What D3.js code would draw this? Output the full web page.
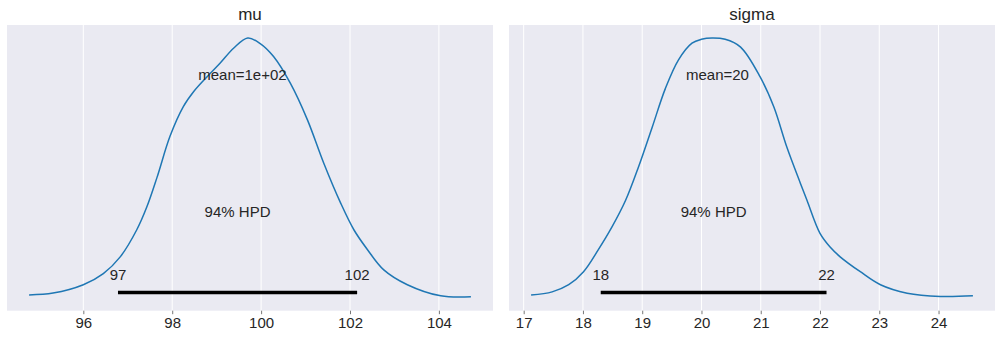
<!DOCTYPE html>
<html>
<head>
<meta charset="utf-8">
<script src="https://cdn.jsdelivr.net/npm/d3@7"></script>
<style>
  body { margin: 0; background: #fff; }
  svg text { font-family: "Liberation Sans", Arial, sans-serif; fill: #262626; }
</style>
</head>
<body>
<script>
// posterior of mu: kde points
const muX = [94.78, 95.32, 96.00, 96.45, 96.83, 97.20, 97.43, 97.66, 97.95, 98.25, 98.48, 98.78, 99.08, 99.38, 99.70,
  99.98, 100.28, 100.66, 101.04, 101.41, 101.79, 102.09, 102.39, 102.76, 103.29, 104.04, 104.72];
const muDensity = [0.003, 0.005, 0.014, 0.026, 0.044, 0.073, 0.098, 0.130, 0.174, 0.206, 0.222, 0.238, 0.253, 0.269, 0.280,
  0.274, 0.260, 0.231, 0.192, 0.145, 0.102, 0.073, 0.052, 0.030, 0.014, 0.002, 0.001];
const muMean = 99.58;
const muHpd = [96.78, 102.16];
const muHpdLabels = ["97", "102"];
const muTicks = [96, 98, 100, 102, 104];

// posterior of sigma
const sigmaX = [17.125, 17.48, 17.76, 18.01, 18.26, 18.49, 18.72, 18.94, 19.17, 19.39, 19.61, 19.84, 20.00, 20.18, 20.40,
  20.66, 20.99, 21.22, 21.44, 21.67, 21.78, 22.00, 22.17, 22.34, 22.68, 23.02, 23.47, 24.03, 24.58];
const sigmaDensity = [0.004, 0.009, 0.020, 0.040, 0.074, 0.109, 0.150, 0.202, 0.263, 0.322, 0.366, 0.392, 0.398, 0.400, 0.398,
  0.386, 0.340, 0.294, 0.232, 0.176, 0.150, 0.099, 0.078, 0.063, 0.040, 0.020, 0.007, 0.002, 0.003];
const sigmaMean = 20.27;
const sigmaHpd = [18.30, 22.11];
const sigmaHpdLabels = ["18", "22"];
const sigmaTicks = [17, 18, 19, 20, 21, 22, 23, 24];

const panels = [
  { title: "mu", x: muX, y: muDensity, mean: muMean, meanLabel: "mean=1e+02", hpd: muHpd, hpdLabels: muHpdLabels, ticks: muTicks, left: 7 },
  { title: "sigma", x: sigmaX, y: sigmaDensity, mean: sigmaMean, meanLabel: "mean=20", hpd: sigmaHpd, hpdLabels: sigmaHpdLabels, ticks: sigmaTicks, left: 509 }
];

const width = 1001, height = 339;
const panelW = 486, plotTop = 25, plotBottom = 310.7;

const svg = d3.select("body").append("svg")
  .attr("width", width)
  .attr("height", height);

panels.forEach(p => {
  const [x0, x1] = d3.extent(p.x);
  const pad = (x1 - x0) * 0.05;
  const maxD = d3.max(p.y);

  const x = d3.scaleLinear().domain([x0 - pad, x1 + pad]).range([p.left, p.left + panelW]);
  const y = d3.scaleLinear().domain([-0.05 * maxD, 1.05 * maxD]).range([plotBottom, plotTop]);

  const g = svg.append("g");

  // background
  g.append("rect")
    .attr("x", p.left).attr("y", plotTop)
    .attr("width", panelW).attr("height", plotBottom - plotTop)
    .attr("fill", "#eaeaf2");

  // vertical grid
  g.selectAll(".grid")
    .data(p.ticks)
    .enter().append("line")
    .attr("x1", d => x(d)).attr("x2", d => x(d))
    .attr("y1", plotTop).attr("y2", plotBottom)
    .attr("stroke", "#fff")
    .attr("stroke-width", 1);

  // x axis
  const axis = g.append("g")
    .attr("transform", "translate(0," + plotBottom + ")")
    .call(d3.axisBottom(x).tickValues(p.ticks).tickSize(3.5).tickPadding(3).tickFormat(d3.format("d")));
  axis.select(".domain").remove();
  axis.selectAll(".tick line").attr("stroke", "#555").attr("stroke-width", 0.8);
  axis.selectAll(".tick text")
    .attr("font-size", "15px")
    .attr("font-family", "Liberation Sans, Arial, sans-serif")
    .attr("fill", "#262626");

  // kde
  g.append("path")
    .datum(p.x.map((v, i) => [v, p.y[i]]))
    .attr("d", d3.line().x(d => x(d[0])).y(d => y(d[1])).curve(d3.curveCatmullRom.alpha(0.5)))
    .attr("fill", "none")
    .attr("stroke", "#1f77b4")
    .attr("stroke-width", 1.5);

  // hpd bar
  g.append("line")
    .attr("x1", x(p.hpd[0])).attr("x2", x(p.hpd[1]))
    .attr("y1", y(maxD * 0.02)).attr("y2", y(maxD * 0.02))
    .attr("stroke", "#000")
    .attr("stroke-width", 3.5);

  p.hpd.forEach((v, i) => {
    g.append("text")
      .attr("x", x(v))
      .attr("y", y(maxD * 0.068))
      .attr("text-anchor", "middle")
      .attr("font-size", "15px")
      .text(p.hpdLabels[i]);
  });

  g.append("text")
    .attr("x", x(d3.mean(p.hpd)))
    .attr("y", y(maxD * 0.31))
    .attr("text-anchor", "middle")
    .attr("font-size", "15px")
    .text("94% HPD");

  g.append("text")
    .attr("x", x(p.mean))
    .attr("y", y(maxD * 0.838))
    .attr("text-anchor", "middle")
    .attr("font-size", "15px")
    .text(p.meanLabel);

  // title
  svg.append("text")
    .attr("x", p.left + panelW / 2)
    .attr("y", 19.5)
    .attr("text-anchor", "middle")
    .attr("font-size", "17px")
    .text(p.title);
});
</script>
</body>
</html>
